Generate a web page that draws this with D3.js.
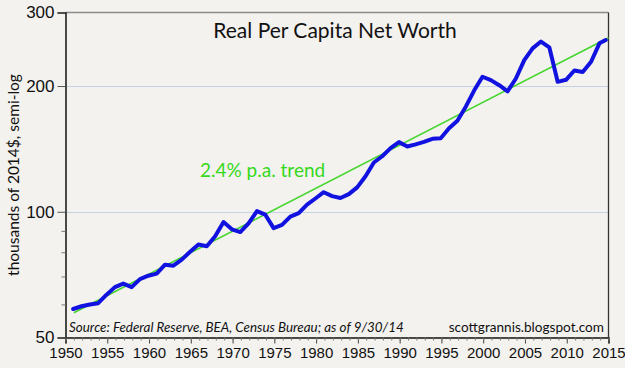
<!DOCTYPE html>
<html><head><meta charset="utf-8">
<script src="https://cdn.jsdelivr.net/npm/d3@7"></script>
<style>
html,body{margin:0;padding:0;background:#f3f2ef;}
svg{display:block;font-family:Lato,"Open Sans",sans-serif;}
</style></head><body>
<svg id="chart" width="625" height="368"></svg>
<script>
// Data: Q4 of each year (last point Q3 2014), thousands of 2014 $
const dates = ["1950-12","1951-12","1952-12","1953-12","1954-12","1955-12","1956-12","1957-12","1958-12","1959-12",
"1960-12","1961-12","1962-12","1963-12","1964-12","1965-12","1966-12","1967-12","1968-12","1969-12",
"1970-12","1971-12","1972-12","1973-12","1974-12","1975-12","1976-12","1977-12","1978-12","1979-12",
"1980-12","1981-12","1982-12","1983-12","1984-12","1985-12","1986-12","1987-12","1988-12","1989-12",
"1990-12","1991-12","1992-12","1993-12","1994-12","1995-12","1996-12","1997-12","1998-12","1999-12",
"2000-12","2001-12","2002-12","2003-12","2004-12","2005-12","2006-12","2007-12","2008-12","2009-12",
"2010-12","2011-12","2012-12","2013-12","2014-09"];
const netWorth = [58.5,59.4,60.0,60.4,63.3,66.0,67.3,66.0,69.0,70.3,
71.1,74.7,74.3,76.8,80.2,83.5,82.7,87.4,94.5,90.8,
89.4,93.8,100.4,98.4,91.4,93.0,97.4,99.3,104.0,107.6,
111.4,109.0,107.9,110.2,114.4,121.6,131.2,135.8,142.0,146.8,
143.3,145.0,147.0,149.5,150.0,158.5,165.2,178.5,195.1,210.5,
206.6,200.9,194.3,208.5,230.8,246.2,255.6,247.6,204.7,207.0,
217.9,216.1,228.7,253.1,257.8];
const trendDates = ["1951-01","2015-01"];
const trendValues = [57.3, 261];
const yTicks = [50,100,200,300];
const yMinorTicks = [60,70,80,90];
const gridValues = [100,200];
const xTickYears = [1950,1955,1960,1965,1970,1975,1980,1985,1990,1995,2000,2005,2010,2015];
const title = "Real Per Capita Net Worth";
const yLabel = "thousands of 2014$, semi-log";
const trendLabel = "2.4% p.a. trend";
const sourceText = "Source: Federal Reserve, BEA, Census Bureau; as of 9/30/14";
const siteText = "scottgrannis.blogspot.com";

const parse = d3.timeParse("%Y-%m");
const svg = d3.select("#chart");
const L = 65.5, R = 608.5, T = 12.5, B = 337.5;

const x = d3.scaleTime().domain([new Date(1950,0,1), new Date(2015,0,1)]).range([L,R]);
const y = d3.scaleLog().domain([50,300]).range([B,T]);

// gridlines
svg.append("g").selectAll("line").data(gridValues).join("line")
  .attr("x1",L).attr("x2",R).attr("y1",d=>Math.round(y(d))+0.5).attr("y2",d=>Math.round(y(d))+0.5)
  .attr("stroke","#c3d3e3").attr("stroke-width",1.2);

// frame: top gray, right dark
svg.append("line").attr("x1",L).attr("x2",R).attr("y1",T).attr("y2",T).attr("stroke","#8a8a8a").attr("stroke-width",1.5);
svg.append("line").attr("x1",R).attr("x2",R).attr("y1",T).attr("y2",B).attr("stroke","#333").attr("stroke-width",1.3);

// y axis
const yAxis = d3.axisLeft(y).tickValues(yTicks).tickFormat(d3.format("d")).tickSize(8).tickPadding(3);
const gy = svg.append("g").attr("transform",`translate(${L},0)`).call(yAxis);
gy.select(".domain").attr("stroke","#111").attr("stroke-width",1.5);
gy.selectAll(".tick line").attr("stroke","#555");
gy.selectAll(".tick text").attr("font-size",17).attr("fill","#111");
const yMinor = d3.axisLeft(y).tickValues(yMinorTicks).tickFormat("").tickSize(4);
const gym = svg.append("g").attr("transform",`translate(${L},0)`).call(yMinor);
gym.select(".domain").remove();
gym.selectAll(".tick line").attr("stroke","#777");

// x axis
const xAxis = d3.axisBottom(x).tickValues(xTickYears.map(yr=>new Date(yr,0,1)))
  .tickFormat(d3.timeFormat("%Y")).tickSize(6).tickPadding(4);
const gx = svg.append("g").attr("transform",`translate(0,${B})`).call(xAxis);
gx.select(".domain").attr("stroke","#111").attr("stroke-width",1.5);
gx.selectAll(".tick line").attr("stroke","#444");
gx.selectAll(".tick text").attr("font-size",15).attr("fill","#111");
const xMinor = d3.axisBottom(x).ticks(d3.timeYear.every(1)).tickFormat("").tickSize(3);
const gxm = svg.append("g").attr("transform",`translate(0,${B})`).call(xMinor);
gxm.select(".domain").remove();
gxm.selectAll(".tick line").attr("stroke","#777");

// trend line
const trend = trendDates.map((d,i)=>({date:parse(d), v:trendValues[i]}));
svg.append("path").datum(trend)
  .attr("d", d3.line().x(d=>x(d.date)).y(d=>y(d.v)))
  .attr("fill","none").attr("stroke","#44d62c").attr("stroke-width",1.6);

// main series
const series = dates.map((d,i)=>({date:parse(d), v:netWorth[i]}));
svg.append("path").datum(series)
  .attr("d", d3.line().x(d=>x(d.date)).y(d=>y(d.v)))
  .attr("fill","none").attr("stroke","#1212e0").attr("stroke-width",4)
  .attr("stroke-linejoin","round").attr("stroke-linecap","round");

// texts
svg.append("text").attr("x",335).attr("y",38).attr("text-anchor","middle")
  .attr("font-size",21).attr("fill","#111").text(title);
svg.append("text").attr("transform","translate(19,175) rotate(-90)").attr("text-anchor","middle")
  .attr("font-size",15.5).attr("fill","#111").text(yLabel);
svg.append("text").attr("x",200).attr("y",177).attr("font-size",19).attr("fill","#36d81a").text(trendLabel);
svg.append("text").attr("x",69).attr("y",332).attr("font-size",13.4).attr("font-style","italic").attr("fill","#111").text(sourceText);
svg.append("text").attr("x",604).attr("y",332).attr("text-anchor","end").attr("font-size",13.6).attr("fill","#111").text(siteText);
</script>
</body></html>
